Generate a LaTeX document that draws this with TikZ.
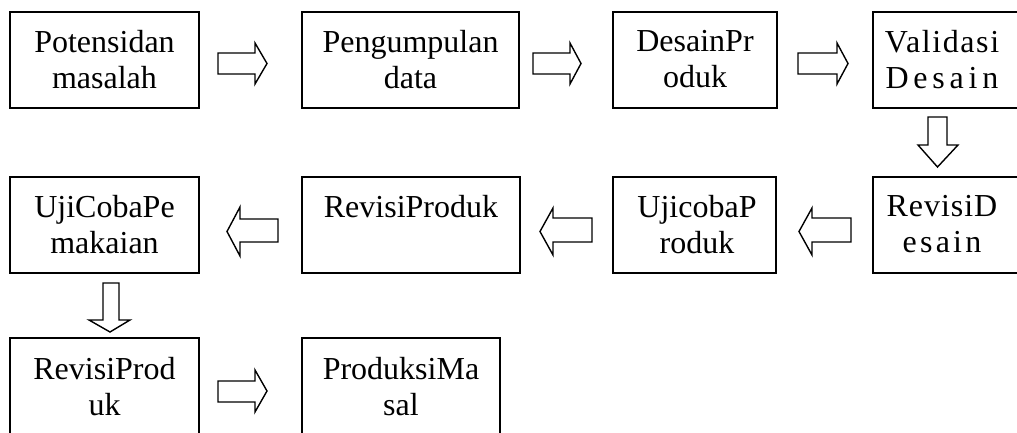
\documentclass[tikz,border=0pt]{standalone}
\usepackage{fontspec}
\setmainfont{Liberation Serif}
\begin{document}
\begin{tikzpicture}[x=1pt,y=-1pt,
  box/.style={draw, line width=1.5pt, inner sep=0pt},
  boxthick/.style={box, line width=2.2pt},
  txt/.style={anchor=north, inner sep=0pt, align=center, font=\fontsize{32}{36.5}\selectfont},
  barrow/.style={draw, line width=1.4pt, line join=miter, fill=white}]
\useasboundingbox (0,0) rectangle (1017,432);
% row 1
\node[box, minimum width=189, minimum height=96] (b1) at (104.5,60) {};
\node[box, minimum width=217, minimum height=96] (b2) at (410.5,60) {};
\node[box, minimum width=164, minimum height=96] (b3) at (695,60) {};
\node[box, minimum width=167, minimum height=96] (b4) at (956.5,60) {};
% row 2
\node[box, minimum width=167, minimum height=96] (b5) at (956.5,225) {};
\node[box, minimum width=163, minimum height=96] (b6) at (694.5,225) {};
\node[box, minimum width=218, minimum height=96] (b7) at (411,225) {};
\node[box, minimum width=189, minimum height=96] (b8) at (104.5,225) {};
% row 3
\node[box, minimum width=189, minimum height=122] (b9) at (104.5,399) {};
\node[boxthick, minimum width=198, minimum height=122] (b10) at (401,399) {};
% texts
\node[txt] (t1) at (104.5,30) {Potensidan\\masalah};
\node[txt] (t2) at (410.5,30) {Pengumpulan\\data};
\node[txt] (t3) at (695,30) {DesainPr\\oduk};
\node[txt] (t4) at (942,30) {{\addfontfeature{LetterSpace=5}Validasi}\\{\addfontfeature{LetterSpace=15}Desain}};
\node[txt] (t5) at (942,195) {{\addfontfeature{LetterSpace=3}RevisiD}\\{\addfontfeature{LetterSpace=10}esain}};
\node[txt] (t6) at (697,195) {UjicobaP\\roduk};
\node[txt] (t7) at (411,195) {RevisiProduk};
\node[txt] (t8) at (104.5,195) {UjiCobaPe\\makaian};
\node[txt] (t9) at (104.5,357) {RevisiProd\\uk};
\node[txt] (t10) at (401,357) {ProduksiMa\\sal};
% block arrows, row 1 (right)
\draw[barrow] (218,53) -- (255,53) -- (255,43) -- (267,63.5) -- (255,84) -- (255,74) -- (218,74) -- cycle;
\draw[barrow] (533,53) -- (570,53) -- (570,43) -- (581,63.5) -- (570,84) -- (570,74) -- (533,74) -- cycle;
\draw[barrow] (798,53) -- (837,53) -- (837,43) -- (848,63.5) -- (837,84) -- (837,74) -- (798,74) -- cycle;
% down arrow to row 2
\draw[barrow] (928,117) -- (928,145) -- (918,145) -- (937.5,167) -- (958,145) -- (947,145) -- (947,117) -- cycle;
% row 2 (left)
\draw[barrow] (851,218) -- (812,218) -- (812,208) -- (799,231.5) -- (812,255) -- (812,242) -- (851,242) -- cycle;
\draw[barrow] (592,218) -- (553,218) -- (553,208) -- (540,231.5) -- (553,255) -- (553,242) -- (592,242) -- cycle;
\draw[barrow] (278,219) -- (240,219) -- (240,207) -- (227,231.5) -- (240,256) -- (240,242) -- (278,242) -- cycle;
% down arrow to row 3
\draw[barrow] (103,283) -- (103,320) -- (89,320) -- (110,332) -- (130,320) -- (119,320) -- (119,283) -- cycle;
% row 3 (right)
\draw[barrow] (218,381) -- (255,381) -- (255,370) -- (267,391) -- (255,412) -- (255,402) -- (218,402) -- cycle;
\end{tikzpicture}
\end{document}
